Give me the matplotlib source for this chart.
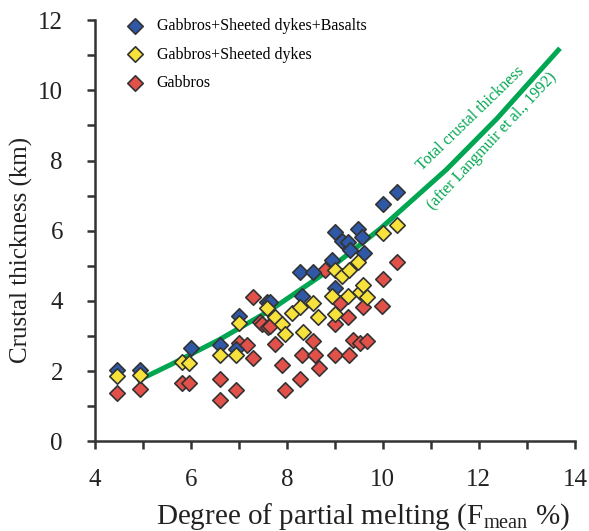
import matplotlib.pyplot as plt

plt.rcParams['font.family'] = ['Liberation Serif', 'DejaVu Serif']
plt.rcParams['mathtext.fontset'] = 'custom'
plt.rcParams['mathtext.rm'] = 'Liberation Serif'

# Gabbros + Sheeted dykes + Basalts
blue_x = [4.46, 4.94, 6.0, 6.6, 6.94, 7.0, 7.58, 7.65, 8.27, 8.54, 8.94, 9.0, 9.15,
          9.27, 9.31, 9.48, 9.56, 9.6, 10.0, 10.29, 8.31, 9.0]
blue_y = [2.02, 2.02, 2.65, 2.73, 2.62, 3.56, 3.96, 3.96, 4.82, 4.82, 5.16, 5.96, 5.7,
          5.67, 5.44, 6.04, 5.82, 5.36, 6.76, 7.1, 4.13, 4.36]

# Gabbros + Sheeted dykes
yellow_x = [4.46, 4.94, 5.81, 5.96, 6.6, 6.94, 7.0, 7.58, 7.75, 7.9, 7.96, 8.1, 8.27,
            8.33, 8.54, 8.65, 8.94, 9.0, 9.0, 9.15, 9.27, 9.29, 9.48, 9.52, 9.58,
            9.67, 10.0, 10.29]
yellow_y = [1.85, 1.88, 2.25, 2.22, 2.45, 2.45, 3.36, 3.79, 3.54, 3.34, 3.05, 3.65, 3.82,
            3.1, 3.93, 3.54, 4.13, 3.62, 4.87, 4.7, 4.13, 4.87, 5.1, 4.25, 4.45,
            4.1, 5.93, 6.16]

# Gabbros
red_x = [4.46, 4.94, 5.81, 5.96, 6.6, 6.6, 6.94, 7.0, 7.16, 7.3, 7.3, 7.44, 7.48, 7.6,
         7.65, 7.75, 7.9, 7.96, 8.27, 8.31, 8.54, 8.58, 8.67, 8.79, 9.0, 9.0, 9.1,
         9.27, 9.29, 9.38, 9.52, 9.58, 9.67, 9.98, 10.0, 10.29]
red_y = [1.37, 1.48, 1.65, 1.65, 1.77, 1.17, 1.45, 2.79, 2.74, 4.1, 2.37, 3.39, 3.33, 3.25,
         3.28, 2.76, 2.17, 1.45, 1.77, 2.45, 2.85, 2.45, 2.08, 4.87, 3.34, 2.45, 3.93,
         3.54, 2.45, 2.88, 2.79, 3.82, 2.85, 3.85, 4.62, 5.1]

# Total crustal thickness (after Langmuir et al., 1992)
curve_x = [4.88, 5.56, 6.6, 7.65, 8.69, 9.94, 11.33, 12.38, 13.69]
curve_y = [1.72, 2.17, 2.9, 3.73, 4.7, 6.05, 7.75, 9.2, 11.2]

edge = '#333333'
green = '#00A651'
fig = plt.figure(figsize=(5.89, 5.31), dpi=100)
ax = fig.add_axes([0.161, 0.169, 0.815, 0.793])

ax.plot(curve_x, curve_y, color=green, lw=3.6, zorder=2, solid_capstyle='butt')

ax.scatter(red_x, red_y, marker='D', s=62, c='#E2504A', edgecolors=edge,
           linewidths=1.2, zorder=3, label='Gabbros')
ax.scatter(yellow_x, yellow_y, marker='D', s=62, c='#F7E23C', edgecolors=edge,
           linewidths=1.2, zorder=4, label='Gabbros+Sheeted dykes')
ax.scatter(blue_x, blue_y, marker='D', s=62, c='#2F58A6', edgecolors=edge,
           linewidths=1.2, zorder=3.5, label='Gabbros+Sheeted dykes+Basalts')

handles, labels = ax.get_legend_handles_labels()
ax.legend(handles[::-1], labels[::-1], loc='upper left', bbox_to_anchor=(0.051, 1.021),
          frameon=False, fontsize=11.5, handletextpad=0.75, labelspacing=0.8,
          borderaxespad=0, scatterpoints=1, handlelength=1.2)

ax.text(11.83, 9.2, 'Total crustal thickness', color=green, fontsize=11.5,
        rotation=44, ha='center', va='center')
ax.text(12.27, 8.55, '(after Langmuir et al., 1992)', color=green, fontsize=11.5,
        rotation=47, ha='center', va='center')

ax.set_xlim(4, 14)
ax.set_ylim(0, 12)
ax.set_xticks(range(4, 15, 2))
ax.set_xticks(range(5, 14, 2), minor=True)
ax.set_yticks(range(0, 13, 2))
ax.set_yticks(range(1, 12, 2), minor=True)
for s in ['top', 'right']:
    ax.spines[s].set_visible(False)
for s in ['left', 'bottom']:
    ax.spines[s].set_linewidth(1.8)
    ax.spines[s].set_color(edge)
ax.tick_params(which='both', direction='out', length=6, width=1.8, color=edge,
               labelsize=18, labelcolor='#222222')
ax.tick_params(axis='x', pad=14)
ax.tick_params(axis='y', pad=17)
ax.set_xlabel('Degree of partial melting (F$_{\\mathrm{mean}}$ %)', fontsize=21,
              color='#222222')
ax.set_ylabel('Crustal thickness (km)', fontsize=18, color='#222222')
ax.xaxis.set_label_coords(0.558, -0.18, transform=ax.transAxes)
ax.yaxis.set_label_coords(-0.152, 0.454, transform=ax.transAxes)
ax.xaxis.label.set_va('center')
ax.yaxis.label.set_va('center')

fig.savefig('out.png', dpi=100)
